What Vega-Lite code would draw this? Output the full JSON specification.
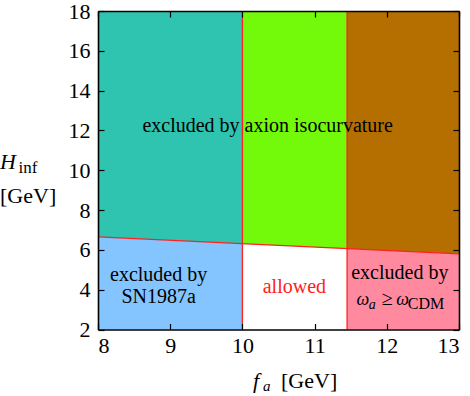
{
  "$schema": "https://vega.github.io/schema/vega-lite/v6.json",
  "autosize": {"type": "none"},
  "width": 361,
  "height": 318.5,
  "padding": {"left": 98, "top": 11, "right": 11, "bottom": 66.5},
  "background": "white",
  "config": {
    "font": "Liberation Serif",
    "view": {"stroke": null},
    "text": {"font": "Liberation Serif"}
  },
  "datasets": {
    "regions": [
      {"region": "teal", "fa": 8, "top": 18, "bottom": 6.65},
      {"region": "teal", "fa": 10, "top": 18, "bottom": 6.31},
      {"region": "green", "fa": 10, "top": 18, "bottom": 6.31},
      {"region": "green", "fa": 11.45, "top": 18, "bottom": 6.06},
      {"region": "brown", "fa": 11.45, "top": 18, "bottom": 6.06},
      {"region": "brown", "fa": 13, "top": 18, "bottom": 5.8},
      {"region": "blue", "fa": 8, "top": 6.65, "bottom": 2},
      {"region": "blue", "fa": 10, "top": 6.31, "bottom": 2},
      {"region": "white", "fa": 10, "top": 6.31, "bottom": 2},
      {"region": "white", "fa": 11.45, "top": 6.06, "bottom": 2},
      {"region": "pink", "fa": 11.45, "top": 6.06, "bottom": 2},
      {"region": "pink", "fa": 13, "top": 5.8, "bottom": 2}
    ],
    "boundary": [
      {"fa": 8, "h": 6.65},
      {"fa": 13, "h": 5.8}
    ],
    "verticals": [
      {"fa": 10, "lo": 2, "hi": 18},
      {"fa": 11.45, "lo": 2, "hi": 18}
    ],
    "texts": [
      {"grp": "ann", "label": "excluded by axion isocurvature", "fa": 10.35, "h": 11.92},
      {"grp": "ann", "label": "excluded by", "fa": 8.84, "h": 4.44},
      {"grp": "ann", "label": "SN1987a", "fa": 8.84, "h": 3.31},
      {"grp": "ann", "label": "excluded by", "fa": 12.18, "h": 4.56},
      {"grp": "allowed", "label": "allowed", "fa": 10.72, "h": 3.84},
      {"grp": "it20", "label": "ω", "fa": 11.58, "h": 3.22},
      {"grp": "it20", "label": "ω", "fa": 12.13, "h": 3.22},
      {"grp": "up20", "label": "≥", "fa": 11.93, "h": 3.22},
      {"grp": "it14", "label": "a", "fa": 11.75, "h": 3.02},
      {"grp": "up14", "label": "CDM", "fa": 12.29, "h": 3.02},
      {"grp": "it22", "label": "H", "fa": 6.643, "h": 10.075},
      {"grp": "it22", "label": "f", "fa": 10.147, "h": -0.925},
      {"grp": "up22", "label": "[GeV]", "fa": 6.643, "h": 8.375},
      {"grp": "up22", "label": "[GeV]", "fa": 10.535, "h": -0.925},
      {"grp": "up15", "label": "inf", "fa": 6.9, "h": 9.85},
      {"grp": "it15", "label": "a", "fa": 10.285, "h": -1.075}
    ]
  },
  "resolve": {"axis": {"x": "independent", "y": "independent"}},
  "layer": [
    {
      "data": {"name": "regions"},
      "mark": {"type": "area", "interpolate": "linear"},
      "encoding": {
        "x": {"field": "fa", "type": "quantitative", "scale": {"domain": [8, 13], "nice": false, "zero": false}, "axis": {"orient": "bottom", "values": [8, 9, 10, 11, 12, 13], "tickSize": -6, "labelPadding": 12, "labelFont": "Liberation Serif", "labelFontSize": 22, "labelColor": "black", "tickColor": "black", "domainColor": "black", "domainWidth": 1.6, "tickWidth": 1.2, "grid": false, "title": null, "zindex": 2}},
        "y": {"field": "top", "type": "quantitative", "stack": null, "scale": {"domain": [2, 18], "nice": false, "zero": false}, "axis": {"orient": "left", "values": [2, 4, 6, 8, 10, 12, 14, 16, 18], "tickSize": -6, "labelPadding": 14, "labelFont": "Liberation Serif", "labelFontSize": 22, "labelColor": "black", "tickColor": "black", "domainColor": "black", "domainWidth": 1.6, "tickWidth": 1.2, "grid": false, "title": null, "zindex": 2}},
        "y2": {"field": "bottom"},
        "detail": {"field": "region"},
        "color": {"field": "region", "type": "nominal", "legend": null, "scale": {"domain": ["teal", "green", "brown", "blue", "white", "pink"], "range": ["#2EC4B0", "#72FA0A", "#B56F00", "#85C5FF", "#FFFFFF", "#FF8AA0"]}}
      }
    },
    {
      "data": {"name": "boundary"},
      "mark": {"type": "line", "color": "#FF2020", "strokeWidth": 1.3},
      "encoding": {
        "x": {"field": "fa", "type": "quantitative", "axis": {"orient": "top", "values": [8, 9, 10, 11, 12, 13], "tickSize": -6, "labels": false, "tickColor": "black", "domainColor": "black", "domainWidth": 1.6, "tickWidth": 1.2, "grid": false, "title": null, "zindex": 2}},
        "y": {"field": "h", "type": "quantitative", "axis": {"orient": "right", "values": [2, 4, 6, 8, 10, 12, 14, 16, 18], "tickSize": -6, "labels": false, "tickColor": "black", "domainColor": "black", "domainWidth": 1.6, "tickWidth": 1.2, "grid": false, "title": null, "zindex": 2}}
      }
    },
    {
      "data": {"name": "verticals"},
      "mark": {"type": "rule", "color": "#FF2020", "strokeWidth": 1.3},
      "encoding": {
        "x": {"field": "fa", "type": "quantitative", "axis": null},
        "y": {"field": "lo", "type": "quantitative", "axis": null},
        "y2": {"field": "hi"}
      }
    },
    {
      "data": {"name": "texts"},
      "transform": [{"filter": "datum.grp === 'ann'"}],
      "mark": {"type": "text", "fontSize": 20, "align": "center", "baseline": "alphabetic", "color": "black"},
      "encoding": {"x": {"field": "fa", "type": "quantitative", "axis": null}, "y": {"field": "h", "type": "quantitative", "axis": null}, "text": {"field": "label"}}
    },
    {
      "data": {"name": "texts"},
      "transform": [{"filter": "datum.grp === 'allowed'"}],
      "mark": {"type": "text", "fontSize": 20, "align": "center", "baseline": "alphabetic", "color": "#FF2020"},
      "encoding": {"x": {"field": "fa", "type": "quantitative", "axis": null}, "y": {"field": "h", "type": "quantitative", "axis": null}, "text": {"field": "label"}}
    },
    {
      "data": {"name": "texts"},
      "transform": [{"filter": "datum.grp === 'it20'"}],
      "mark": {"type": "text", "fontSize": 18, "fontStyle": "italic", "align": "left", "baseline": "alphabetic", "color": "black"},
      "encoding": {"x": {"field": "fa", "type": "quantitative", "axis": null}, "y": {"field": "h", "type": "quantitative", "axis": null}, "text": {"field": "label"}}
    },
    {
      "data": {"name": "texts"},
      "transform": [{"filter": "datum.grp === 'up20'"}],
      "mark": {"type": "text", "fontSize": 20, "align": "left", "baseline": "alphabetic", "color": "black"},
      "encoding": {"x": {"field": "fa", "type": "quantitative", "axis": null}, "y": {"field": "h", "type": "quantitative", "axis": null}, "text": {"field": "label"}}
    },
    {
      "data": {"name": "texts"},
      "transform": [{"filter": "datum.grp === 'it14'"}],
      "mark": {"type": "text", "fontSize": 14, "fontStyle": "italic", "align": "left", "baseline": "alphabetic", "color": "black"},
      "encoding": {"x": {"field": "fa", "type": "quantitative", "axis": null}, "y": {"field": "h", "type": "quantitative", "axis": null}, "text": {"field": "label"}}
    },
    {
      "data": {"name": "texts"},
      "transform": [{"filter": "datum.grp === 'up14'"}],
      "mark": {"type": "text", "fontSize": 16, "align": "left", "baseline": "alphabetic", "color": "black"},
      "encoding": {"x": {"field": "fa", "type": "quantitative", "axis": null}, "y": {"field": "h", "type": "quantitative", "axis": null}, "text": {"field": "label"}}
    },
    {
      "data": {"name": "texts"},
      "transform": [{"filter": "datum.grp === 'it22'"}],
      "mark": {"type": "text", "fontSize": 22, "fontStyle": "italic", "align": "left", "baseline": "alphabetic", "color": "black"},
      "encoding": {"x": {"field": "fa", "type": "quantitative", "axis": null}, "y": {"field": "h", "type": "quantitative", "axis": null}, "text": {"field": "label"}}
    },
    {
      "data": {"name": "texts"},
      "transform": [{"filter": "datum.grp === 'up22'"}],
      "mark": {"type": "text", "fontSize": 22, "align": "left", "baseline": "alphabetic", "color": "black"},
      "encoding": {"x": {"field": "fa", "type": "quantitative", "axis": null}, "y": {"field": "h", "type": "quantitative", "axis": null}, "text": {"field": "label"}}
    },
    {
      "data": {"name": "texts"},
      "transform": [{"filter": "datum.grp === 'up15'"}],
      "mark": {"type": "text", "fontSize": 17, "align": "left", "baseline": "alphabetic", "color": "black"},
      "encoding": {"x": {"field": "fa", "type": "quantitative", "axis": null}, "y": {"field": "h", "type": "quantitative", "axis": null}, "text": {"field": "label"}}
    },
    {
      "data": {"name": "texts"},
      "transform": [{"filter": "datum.grp === 'it15'"}],
      "mark": {"type": "text", "fontSize": 15, "fontStyle": "italic", "align": "left", "baseline": "alphabetic", "color": "black"},
      "encoding": {"x": {"field": "fa", "type": "quantitative", "axis": null}, "y": {"field": "h", "type": "quantitative", "axis": null}, "text": {"field": "label"}}
    }
  ]
}
